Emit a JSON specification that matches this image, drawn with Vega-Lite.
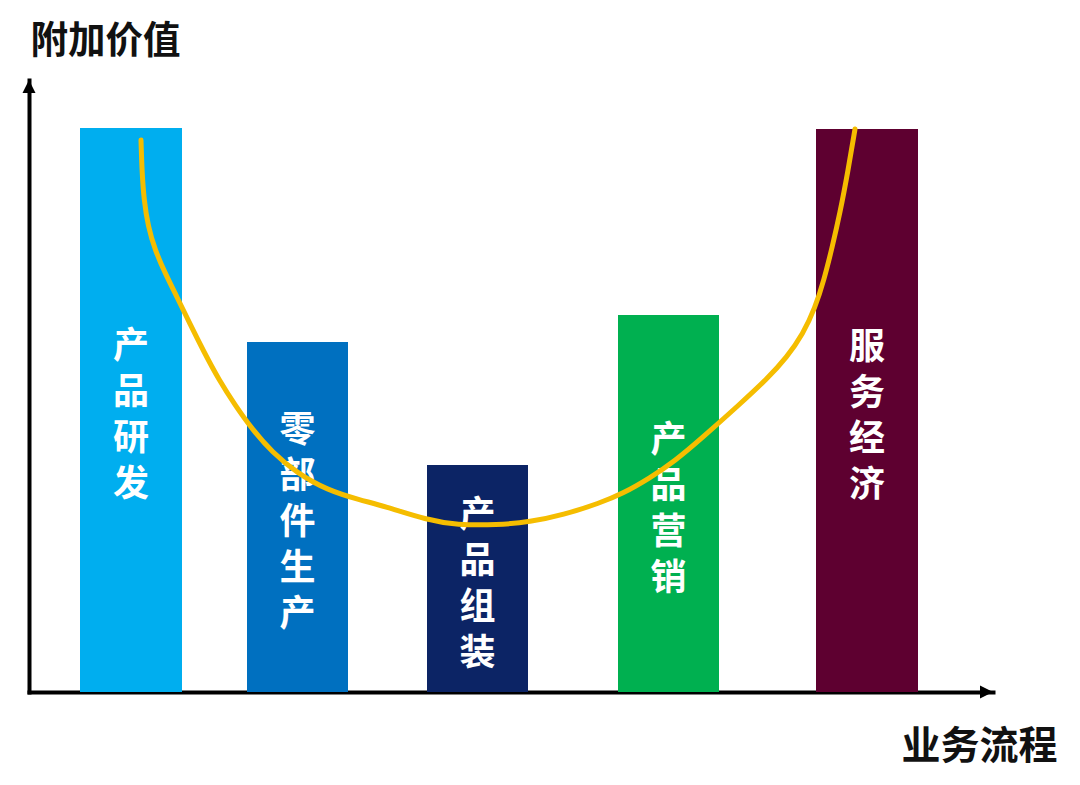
{
  "$schema": "https://vega.github.io/schema/vega-lite/v6.json",
  "autosize": "none",
  "width": 964,
  "height": 612,
  "padding": {"left": 29, "top": 80, "right": 87, "bottom": 93},
  "background": "#ffffff",
  "datasets": {
    "bars": [
      {"stage": "产品研发", "start": 51, "end": 153, "value": 564},
      {"stage": "零部件生产", "start": 218, "end": 319, "value": 350},
      {"stage": "产品组装", "start": 398, "end": 499, "value": 227},
      {"stage": "产品营销", "start": 589, "end": 690, "value": 377},
      {"stage": "服务经济", "start": 787, "end": 889, "value": 563}
    ],
    "curve": [
      {"x": 112, "y": 552},
      {"x": 113, "y": 520},
      {"x": 115, "y": 492},
      {"x": 119, "y": 466},
      {"x": 126, "y": 442},
      {"x": 136, "y": 419},
      {"x": 148, "y": 395},
      {"x": 161, "y": 368},
      {"x": 175, "y": 340},
      {"x": 190, "y": 312},
      {"x": 206, "y": 287},
      {"x": 223, "y": 263},
      {"x": 243, "y": 240},
      {"x": 268, "y": 219},
      {"x": 298, "y": 202},
      {"x": 331, "y": 192},
      {"x": 355, "y": 186},
      {"x": 398, "y": 172},
      {"x": 428, "y": 167},
      {"x": 468, "y": 167},
      {"x": 501, "y": 170},
      {"x": 534, "y": 177},
      {"x": 571, "y": 189},
      {"x": 593, "y": 198},
      {"x": 621, "y": 214},
      {"x": 646, "y": 231},
      {"x": 673, "y": 254},
      {"x": 711, "y": 288},
      {"x": 738, "y": 313},
      {"x": 758, "y": 335},
      {"x": 774, "y": 358},
      {"x": 786, "y": 384},
      {"x": 795, "y": 412},
      {"x": 803, "y": 444},
      {"x": 811, "y": 479},
      {"x": 819, "y": 521},
      {"x": 826, "y": 563}
    ],
    "arrows": [
      {"dir": "up", "x": 0, "y": 612},
      {"dir": "right", "x": 964, "y": 0}
    ]
  },
  "layer": [
    {
      "data": {"name": "bars"},
      "mark": {"type": "rect"},
      "encoding": {
        "x": {"field": "start", "type": "quantitative", "title": "业务流程", "scale": {"domain": [0, 964], "nice": false, "zero": false}},
        "x2": {"field": "end"},
        "y": {"field": "value", "type": "quantitative", "title": "附加价值", "scale": {"domain": [0, 612], "nice": false}},
        "y2": {"datum": 0},
        "color": {
          "field": "stage", "type": "nominal",
          "scale": {
            "domain": ["产品研发", "零部件生产", "产品组装", "产品营销", "服务经济"],
            "range": ["#00AEEF", "#0070C0", "#0C2465", "#00B050", "#5E0030"]
          },
          "legend": null
        }
      }
    },
    {
      "data": {"name": "bars"},
      "transform": [
        {"calculate": "join(split(datum.stage, ''), '|')", "as": "vlabel"},
        {"calculate": "(datum.start + datum.end) / 2", "as": "mid_x"},
        {"calculate": "datum.value / 2 + (length(datum.stage) - 1) * 23 - 6", "as": "mid_y"}
      ],
      "mark": {
        "type": "text", "lineBreak": "|", "lineHeight": 46,
        "font": "Noto Sans CJK SC", "fontSize": 36, "fontWeight": "bold",
        "color": "#ffffff", "align": "center", "baseline": "middle"
      },
      "encoding": {
        "x": {"field": "mid_x", "type": "quantitative", "title": "业务流程", "scale": {"domain": [0, 964], "nice": false, "zero": false}},
        "y": {"field": "mid_y", "type": "quantitative", "title": "附加价值", "scale": {"domain": [0, 612], "nice": false}},
        "text": {"field": "vlabel"}
      }
    },
    {
      "data": {"name": "curve"},
      "mark": {"type": "line", "interpolate": "basis", "color": "#F5BD00", "strokeWidth": 5, "strokeCap": "round"},
      "encoding": {
        "x": {"field": "x", "type": "quantitative", "title": "业务流程", "scale": {"domain": [0, 964], "nice": false, "zero": false}},
        "y": {"field": "y", "type": "quantitative", "title": "附加价值", "scale": {"domain": [0, 612], "nice": false}}
      }
    },
    {
      "data": {"name": "arrows"},
      "mark": {"type": "point", "filled": true, "color": "#000000", "opacity": 1, "size": 169, "strokeWidth": 0},
      "encoding": {
        "x": {"field": "x", "type": "quantitative", "title": "业务流程", "scale": {"domain": [0, 964], "nice": false, "zero": false}},
        "y": {"field": "y", "type": "quantitative", "title": "附加价值", "scale": {"domain": [0, 612], "nice": false}},
        "shape": {
          "field": "dir", "type": "nominal",
          "scale": {"domain": ["up", "right"], "range": ["M0,0L-1,2L1,2Z", "M0,0L-2,-1L-2,1Z"]},
          "legend": null
        }
      }
    }
  ],
  "config": {
    "view": {"stroke": null},
    "axis": {
      "domainColor": "#000000", "domainWidth": 4, "domainCap": "square",
      "ticks": false, "labels": false, "grid": false,
      "titleFont": "Noto Sans CJK SC", "titleFontWeight": "bold",
      "titleColor": "#111111", "titleBaseline": "alphabetic", "zindex": 1
    },
    "axisX": {"titleAlign": "right", "titleX": 1028, "titleY": 66, "titleFontSize": 39},
    "axisY": {"titleAngle": 0, "titleAlign": "left", "titleX": 1, "titleY": -28, "titleFontSize": 37.5}
  }
}
